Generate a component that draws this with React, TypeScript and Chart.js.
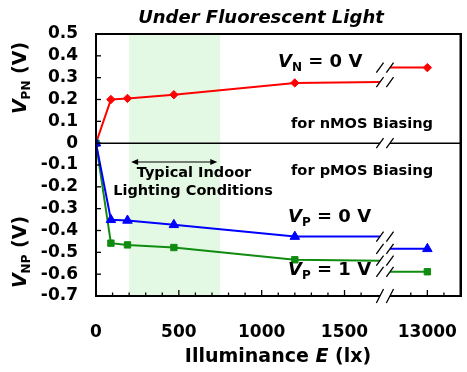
import React, { useEffect, useRef } from "react";
import { Chart, registerables } from "chart.js";

Chart.register(...registerables);

// ---- data ----
const xLux = [0, 90, 190, 470, 1200];
const vN0 = [0, 0.2, 0.205, 0.222, 0.276];
const vP0 = [0, -0.351, -0.354, -0.374, -0.428];
const vP1 = [0, -0.458, -0.466, -0.478, -0.534];
// value of each line where it meets the axis break
const vN0Break = 0.28;
const vP0Break = -0.428;
const vP1Break = -0.538;
// highest illuminance point (drawn after the axis break)
const highLux = 13000;
const vN0High = 0.346;
const vP0High = -0.484;
const vP1High = -0.589;

const xTickValues = [0, 500, 1000, 1500, 2000];
const xTickLabels = ["0", "500", "1000", "1500", String(highLux)];
const yTickValues = [-0.7, -0.6, -0.5, -0.4, -0.3, -0.2, -0.1, 0, 0.1, 0.2, 0.3, 0.4, 0.5];
const yTickLabels = ["-0.7", "-0.6", "-0.5", "-0.4", "-0.3", "-0.2", "-0.1", "0", "0.1", "0.2", "0.3", "0.4", "0.5"];

// axis layout of the broken x axis
const X_MAX = 2200;
const HIGH_POS = 2000; // where 13000 lx sits on the compressed axis
const BREAK_L = 1714;
const BREAK_R = 1774;
const BAND = [200, 750];

const FONT = '"DejaVu Sans"';

function series(v: number[], vb: number, vh: number) {
  return [
    ...xLux.map((x, i) => ({ x, y: v[i] })),
    { x: BREAK_L, y: vb },
    { x: (BREAK_L + BREAK_R) / 2, y: null },
    { x: BREAK_R, y: vh },
    { x: HIGH_POS, y: vh },
  ];
}

type Part = { t: string; size: number; italic?: boolean; dy?: number };

function fontOf(p: Part) {
  return `${p.italic ? "italic " : ""}bold ${p.size}px ${FONT}`;
}

function drawRich(ctx: CanvasRenderingContext2D, x: number, y: number, parts: Part[], align: "left" | "center") {
  ctx.save();
  ctx.textAlign = "left";
  ctx.textBaseline = "alphabetic";
  ctx.fillStyle = "#000";
  let total = 0;
  for (const p of parts) {
    ctx.font = fontOf(p);
    total += ctx.measureText(p.t).width;
  }
  let cx = align === "center" ? x - total / 2 : x;
  for (const p of parts) {
    ctx.font = fontOf(p);
    ctx.fillText(p.t, cx, y + (p.dy || 0));
    cx += ctx.measureText(p.t).width;
  }
  ctx.restore();
}

function slashPair(ctx: CanvasRenderingContext2D, cx: number, cy: number, hh: number, cut: boolean) {
  const hw = 3.6;
  const off = 5;
  ctx.save();
  if (cut) {
    const k = 2.4 / hh;
    ctx.fillStyle = "#fff";
    ctx.beginPath();
    ctx.moveTo(cx - off - hw * k, cy + 2.4);
    ctx.lineTo(cx - off + hw * k, cy - 2.4);
    ctx.lineTo(cx + off + hw * k, cy - 2.4);
    ctx.lineTo(cx + off - hw * k, cy + 2.4);
    ctx.closePath();
    ctx.fill();
  }
  ctx.strokeStyle = "#000";
  ctx.lineWidth = 1.3;
  ctx.beginPath();
  for (const s of [-off, off]) {
    ctx.moveTo(cx + s - hw, cy + hh);
    ctx.lineTo(cx + s + hw, cy - hh);
  }
  ctx.stroke();
  ctx.restore();
}

function seg(ctx: CanvasRenderingContext2D, x1: number, y1: number, x2: number, y2: number, w: number) {
  ctx.beginPath();
  ctx.moveTo(x1, y1);
  ctx.lineTo(x2, y2);
  ctx.lineWidth = w;
  ctx.stroke();
}

const decorPlugin = {
  id: "decor",
  beforeDatasetsDraw(chart: any) {
    const { ctx, chartArea: a, scales } = chart;
    const xs = scales.x;
    const ys = scales.y;
    ctx.save();
    // indoor lighting band
    ctx.fillStyle = "#e4f9e4";
    const b0 = xs.getPixelForValue(BAND[0]);
    const b1 = xs.getPixelForValue(BAND[1]);
    ctx.fillRect(b0, a.top, b1 - b0, a.bottom - a.top);
    ctx.strokeStyle = "#000";
    // zero line
    seg(ctx, a.left, ys.getPixelForValue(0), a.right, ys.getPixelForValue(0), 1.5);
    ctx.restore();
  },
  afterDraw(chart: any) {
    const { ctx, scales } = chart;
    const xs = scales.x;
    const ys = scales.y;
    const left = xs.getPixelForValue(0);
    const right = xs.getPixelForValue(X_MAX);
    const top = ys.getPixelForValue(0.5);
    const bottom = ys.getPixelForValue(-0.7);

    ctx.save();
    ctx.strokeStyle = "#000000";
    ctx.globalCompositeOperation = "source-over";
    // frame
    seg(ctx, left - 1, top, right + 1, top, 2);
    seg(ctx, left - 1, bottom, right + 1, bottom, 2);
    seg(ctx, left, top, left, bottom, 2);
    seg(ctx, right, top, right, bottom, 2);
    // y ticks inward
    for (const v of yTickValues) {
      const y = ys.getPixelForValue(v);
      seg(ctx, left, y, left + 5, y, 1.3);
    }
    // x ticks inward, every 100 on the compressed axis, skipping the break
    for (let v = 100; v < X_MAX; v += 100) {
      if (v > 1650 && v < 1850) continue;
      const major = xTickValues.indexOf(v) >= 0;
      const x = xs.getPixelForValue(v);
      seg(ctx, x, bottom, x, bottom - (major ? 6 : 3.5), 1.3);
    }
    ctx.restore();

    // axis breaks
    const bx = (xs.getPixelForValue(BREAK_L) + xs.getPixelForValue(BREAK_R)) / 2;
    slashPair(ctx, bx, ys.getPixelForValue(0), 5, true);
    slashPair(ctx, bx, bottom, 7, true);
    for (const v of [vN0Break, vN0High, vP0Break, vP0High, vP1Break, vP1High]) {
      slashPair(ctx, bx, ys.getPixelForValue(v), 5, false);
    }

    // arrow for the band
    const b0 = xs.getPixelForValue(BAND[0]) + 2;
    const b1 = xs.getPixelForValue(BAND[1]) - 3;
    const ay = 162;
    ctx.save();
    ctx.strokeStyle = "#000";
    ctx.fillStyle = "#000";
    seg(ctx, b0 + 4, ay, b1 - 4, ay, 1.2);
    ctx.beginPath();
    ctx.moveTo(b0, ay);
    ctx.lineTo(b0 + 7, ay - 3);
    ctx.lineTo(b0 + 7, ay + 3);
    ctx.closePath();
    ctx.moveTo(b1, ay);
    ctx.lineTo(b1 - 7, ay - 3);
    ctx.lineTo(b1 - 7, ay + 3);
    ctx.closePath();
    ctx.fill();
    ctx.restore();

    // texts
    drawRich(ctx, 261, 23, [{ t: "Under Fluorescent Light", size: 18, italic: true }], "center");
    drawRich(ctx, 278, 362, [
      { t: "Illuminance ", size: 19 },
      { t: "E", size: 19, italic: true },
      { t: " (lx)", size: 19 },
    ], "center");
    for (const [cy, sub] of [[78, "PN"], [252, "NP"]] as [number, string][]) {
      ctx.save();
      ctx.translate(26, cy);
      ctx.rotate(-Math.PI / 2);
      drawRich(ctx, 0, 0, [
        { t: "V", size: 19, italic: true },
        { t: sub, size: 12, dy: 4 },
        { t: " (V)", size: 19 },
      ], "center");
      ctx.restore();
    }
    drawRich(ctx, 278, 67, [
      { t: "V", size: 18, italic: true },
      { t: "N", size: 12, dy: 3.5 },
      { t: " = 0 V", size: 18 },
    ], "left");
    drawRich(ctx, 288, 222, [
      { t: "V", size: 18, italic: true },
      { t: "P", size: 12, dy: 3.5 },
      { t: " = 0 V", size: 18 },
    ], "left");
    drawRich(ctx, 288, 275, [
      { t: "V", size: 18, italic: true },
      { t: "P", size: 12, dy: 3.5 },
      { t: " = 1 V", size: 18 },
    ], "left");
    drawRich(ctx, 291, 128, [{ t: "for nMOS Biasing", size: 14.6 }], "left");
    drawRich(ctx, 291, 175, [{ t: "for pMOS Biasing", size: 14.6 }], "left");
    drawRich(ctx, 194, 177, [{ t: "Typical Indoor", size: 14.5 }], "center");
    drawRich(ctx, 193, 195, [{ t: "Lighting Conditions", size: 14.5 }], "center");
  },
};

function markerRadius(r: number) {
  return (c: any) => (c.dataIndex < xLux.length || c.dataIndex === xLux.length + 3 ? r : 0);
}

const frameBorder = { display: true, color: "#000000", width: 2 };

export default function App() {
  const ref = useRef<HTMLCanvasElement | null>(null);
  useEffect(() => {
    if (!ref.current) return;
    const chart = new Chart(ref.current, {
      type: "line",
      data: {
        datasets: [
          {
            data: series(vP0, vP0Break, vP0High) as any,
            borderColor: "#0000ff",
            backgroundColor: "#0000ff",
            borderWidth: 2,
            pointStyle: "triangle",
            pointRadius: markerRadius(5.5) as any,
            pointBorderWidth: 1,
            spanGaps: false,
          },
          {
            data: series(vP1, vP1Break, vP1High) as any,
            borderColor: "#108c10",
            backgroundColor: "#108c10",
            borderWidth: 2,
            pointStyle: "rect",
            pointRadius: markerRadius(4.5) as any,
            pointBorderWidth: 1,
            spanGaps: false,
          },
          {
            data: series(vN0, vN0Break, vN0High) as any,
            borderColor: "#ff0000",
            backgroundColor: "#ff0000",
            borderWidth: 2,
            pointStyle: "rectRot",
            pointRadius: markerRadius(4.2) as any,
            pointBorderWidth: 1,
            spanGaps: false,
          },
        ],
      },
      options: {
        animation: false,
        responsive: false,
        devicePixelRatio: 1,
        events: [],
        layout: { padding: { top: 34, right: 4, left: 0, bottom: 0 } },
        plugins: { legend: { display: false }, tooltip: { enabled: false }, title: { display: false } },
        scales: {
          x: {
            type: "linear",
            min: 0,
            max: X_MAX,
            grid: { display: false, drawTicks: false },
            border: frameBorder,
            afterBuildTicks: (s: any) => {
              s.ticks = xTickValues.map((value) => ({ value }));
            },
            afterFit: (s: any) => {
              s.height = 76;
              s.paddingLeft = 0;
              s.paddingRight = 0;
            },
            ticks: {
              autoSkip: false,
              maxRotation: 0,
              padding: 26,
              color: "#000",
              font: { family: FONT, weight: "bold", size: 17 },
              callback: (v: any) => {
                const i = xTickValues.indexOf(Number(v));
                return i >= 0 ? xTickLabels[i] : "";
              },
            },
          },
          xTop: {
            type: "linear",
            position: "top",
            min: 0,
            max: X_MAX,
            grid: { display: false, drawTicks: false },
            border: frameBorder,
            ticks: { display: false },
            afterFit: (s: any) => {
              s.height = 0;
              s.paddingLeft = 0;
              s.paddingRight = 0;
            },
          },
          y: {
            type: "linear",
            min: -0.7,
            max: 0.5,
            grid: { display: false, drawTicks: false },
            border: frameBorder,
            afterBuildTicks: (s: any) => {
              s.ticks = yTickValues.map((value) => ({ value }));
            },
            afterFit: (s: any) => {
              s.width = 96;
              s.paddingTop = 0;
              s.paddingBottom = 0;
            },
            ticks: {
              autoSkip: false,
              padding: 18,
              color: "#000",
              font: { family: FONT, weight: "bold", size: 17 },
              callback: (v: any) => {
                const i = yTickValues.findIndex((t) => Math.abs(t - Number(v)) < 1e-6);
                return i >= 0 ? yTickLabels[i] : "";
              },
            },
          },
          yRight: {
            type: "linear",
            position: "right",
            min: -0.7,
            max: 0.5,
            grid: { display: false, drawTicks: false },
            border: frameBorder,
            ticks: { display: false },
            afterFit: (s: any) => {
              s.width = 0;
              s.paddingTop = 0;
              s.paddingBottom = 0;
            },
          },
        },
      } as any,
      plugins: [decorPlugin],
    });
    return () => chart.destroy();
  }, []);
  return (
    <div style={{ position: "absolute", left: 0, top: 0, width: 467, height: 372, background: "#fff" }}>
      <canvas ref={ref} width={467} height={372} style={{ display: "block" }} />
    </div>
  );
}
